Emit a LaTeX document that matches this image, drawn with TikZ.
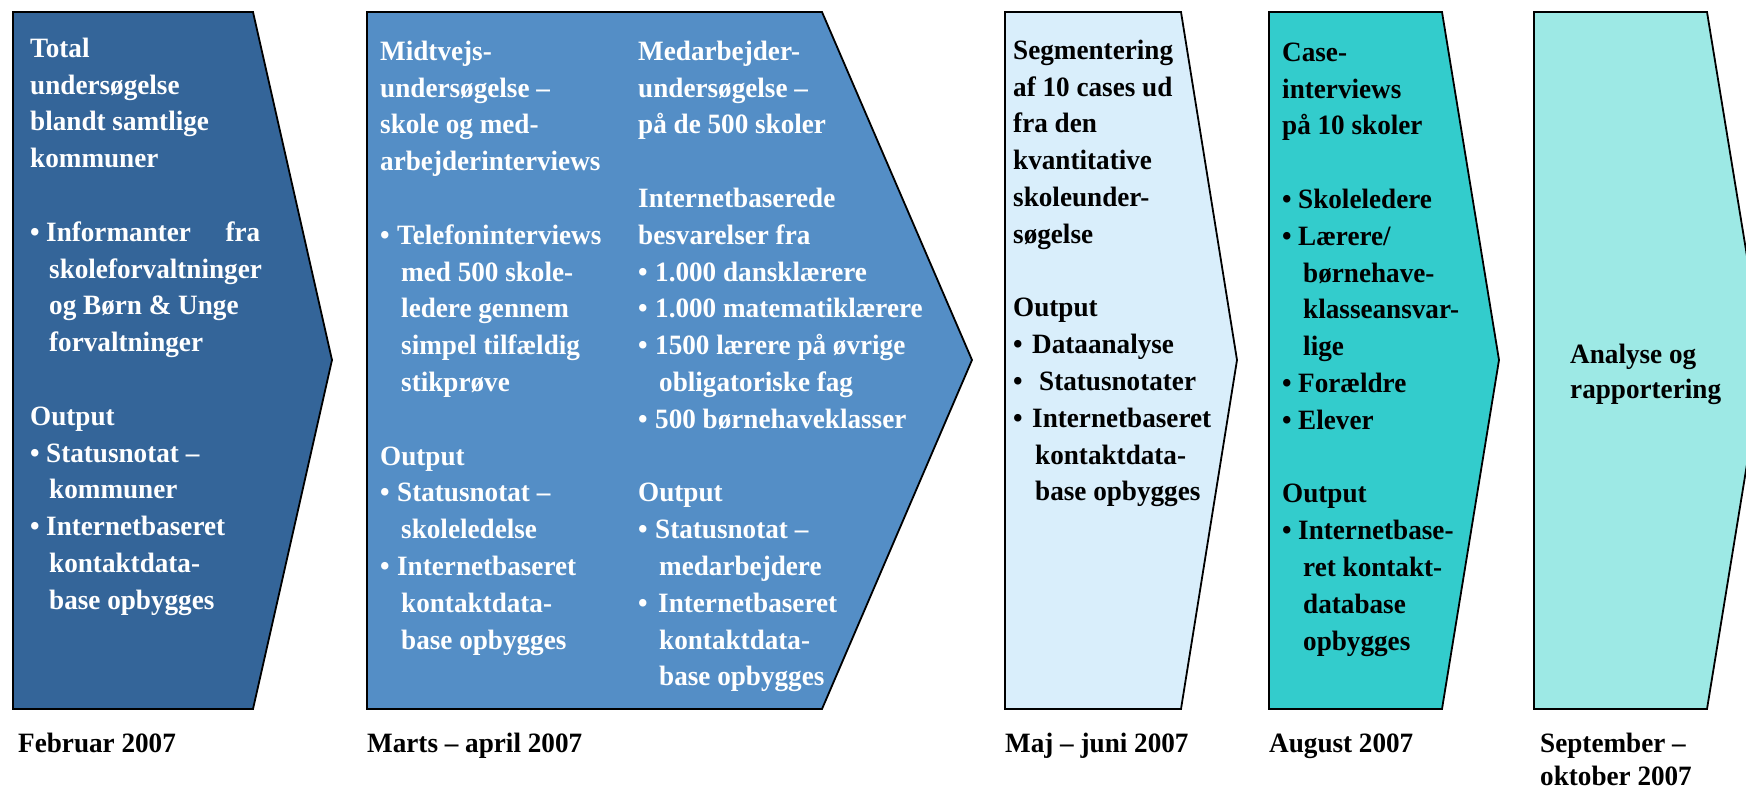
\documentclass[tikz,border=0pt]{standalone}
\usepackage{fontspec}
\setmainfont{Liberation Serif}[FakeStretch=0.97]
\definecolor{cA}{RGB}{52,101,153}
\definecolor{cB}{RGB}{84,142,198}
\definecolor{cC}{RGB}{217,238,251}
\definecolor{cD}{RGB}{51,204,204}
\definecolor{cE}{RGB}{157,233,229}
\newcommand\fl{\rule{0pt}{20pt}}
\newcommand\blt[1]{\makebox[#1][l]{•}}
\newcommand\ind[1]{\hspace*{#1}}
\tikzset{
  stage/.style={draw=black, line width=1.8pt, line join=miter},
  txt/.style={anchor=north west, inner sep=0pt, align=left, font=\bfseries\fontsize{28}{36.8}\selectfont},
  wtxt/.style={txt, text=white},
  btxt/.style={txt, text=black},
  datelbl/.style={txt, text=black, font=\bfseries\fontsize{28}{33}\selectfont}
}
\begin{document}
\begin{tikzpicture}[x=1pt,y=-1pt]
\useasboundingbox (0,0) rectangle (1746,792);
\begin{scope}
\clip (0,0) rectangle (1746,792);
\draw[stage, fill=cA] (13,12) -- (253,12) -- (332,360) -- (253,709) -- (13,709) -- cycle;
\draw[stage, fill=cB] (367,12) -- (822,12) -- (972,360) -- (822,709) -- (367,709) -- cycle;
\draw[stage, fill=cC] (1005,12) -- (1181,12) -- (1237,360) -- (1181,709) -- (1005,709) -- cycle;
\draw[stage, fill=cD] (1269,12) -- (1442,12) -- (1499,360) -- (1442,709) -- (1269,709) -- cycle;
\draw[stage, fill=cE] (1534,12) -- (1707,12) -- (1764,360) -- (1707,709) -- (1534,709) -- cycle;
\end{scope}

\node[wtxt] (t1) at (30,37) {\fl Total\\ undersøgelse\\ blandt samtlige\\ kommuner\\[36.8pt]
\blt{16pt}\hbox to 214pt{Informanter\hfill fra}\\
\ind{19pt}skoleforvaltninger\\ \ind{19pt}og Børn \& Unge\\ \ind{19pt}forvaltninger\\[36.8pt]
Output\\ \blt{16pt}Statusnotat –\\ \ind{19pt}kommuner\\ \blt{16pt}Internetbaseret\\
\ind{19pt}kontaktdata-\\ \ind{19pt}base opbygges};

\node[wtxt] (t2a) at (380,40) {\fl Midtvejs-\\ undersøgelse –\\ skole og med-\\ arbejderinterviews\\[36.8pt]
\blt{17pt}Telefoninterviews\\ \ind{21pt}med 500 skole-\\ \ind{21pt}ledere gennem\\ \ind{21pt}simpel tilfældig\\ \ind{21pt}stikprøve\\[36.8pt]
Output\\ \blt{17pt}Statusnotat –\\ \ind{21pt}skoleledelse\\ \blt{17pt}Internetbaseret\\ \ind{21pt}kontaktdata-\\ \ind{21pt}base opbygges};

\node[wtxt] (t2b) at (638,40) {\fl Medarbejder-\\ undersøgelse –\\ på de 500 skoler\\[36.8pt]
Internetbaserede\\ besvarelser fra\\ \blt{17pt}1.000 dansklærere\\ \blt{17pt}1.000 matematiklærere\\
\blt{17pt}1500 lærere på øvrige\\ \ind{21pt}obligatoriske fag\\ \blt{17pt}500 børnehaveklasser\\[36.8pt]
Output\\ \blt{17pt}Statusnotat –\\ \ind{21pt}medarbejdere\\ \blt{20pt}Internetbaseret\\ \ind{21pt}kontaktdata-\\ \ind{21pt}base opbygges};

\node[btxt] (t3) at (1013,39) {\fl Segmentering\\ af 10 cases ud\\ fra den\\ kvantitative\\ skoleunder-\\ søgelse\\[36.8pt]
Output\\ \blt{19pt}Dataanalyse\\ \blt{26pt}Statusnotater\\ \blt{19pt}Internetbaseret\\ \ind{22pt}kontaktdata-\\ \ind{22pt}base opbygges};

\node[btxt] (t4) at (1282,41) {\fl Case-\\ interviews\\ på 10 skoler\\[36.8pt]
\blt{16pt}Skoleledere\\ \blt{16pt}Lærere/\\ \ind{21pt}børnehave-\\ \ind{21pt}klasseansvar-\\ \ind{21pt}lige\\ \blt{16pt}Forældre\\ \blt{16pt}Elever\\[36.8pt]
Output\\ \blt{16pt}Internetbase-\\ \ind{21pt}ret kontakt-\\ \ind{21pt}database\\ \ind{21pt}opbygges};

\node[btxt, font=\bfseries\fontsize{28}{35}\selectfont] (t5) at (1570,343) {\fl Analyse og\\ rapportering};

\node[datelbl] (d1) at (18,732) {\fl Februar 2007};
\node[datelbl] (d2) at (367,732) {\fl Marts – april 2007};
\node[datelbl] (d3) at (1005,732) {\fl Maj – juni 2007};
\node[datelbl] (d4) at (1269,732) {\fl August 2007};
\node[datelbl] (d5) at (1540,732) {\fl September –\\ oktober 2007};
\end{tikzpicture}
\end{document}
